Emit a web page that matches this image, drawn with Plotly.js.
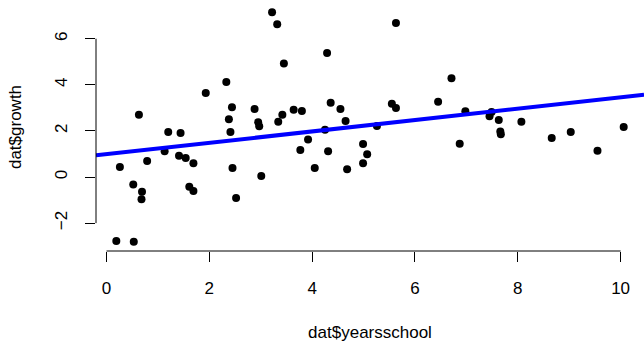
<!DOCTYPE html>
<html>
<head>
<meta charset="utf-8">
<script src="https://cdn.plot.ly/plotly-3.0.1.min.js"></script>
<style>html,body{margin:0;padding:0;background:#fff;}#chart{width:644px;height:342px;}</style>
</head>
<body>
<div id="chart"></div>
<script>
const yearsschool = [3.22,3.32,3.45,2.33,1.93,0.63,2.44,2.88,2.38,2.95,2.97,3.34,3.42,1.20,1.44,2.41,
  5.63,4.29,3.64,3.80,4.36,4.55,4.65,4.25,3.92,5.26,5.55,5.63,6.45,6.71,6.98,6.87,7.49,7.45,7.63,8.07,
  7.66,7.67,8.66,9.03,9.55,10.06,0.26,0.79,1.13,1.41,1.54,1.69,0.52,0.69,0.68,1.61,1.69,2.45,2.52,3.01,
  0.19,0.53,3.77,4.31,4.05,4.68,4.99,5.07,4.99];
const growth = [7.15,6.63,4.92,4.12,3.64,2.70,3.03,2.95,2.51,2.38,2.20,2.40,2.70,1.95,1.91,1.95,
  6.68,5.38,2.92,2.86,3.22,2.95,2.43,2.05,1.63,2.21,3.18,2.99,3.27,4.29,2.85,1.44,2.82,2.64,2.47,2.40,
  1.98,1.86,1.69,1.95,1.14,2.17,0.43,0.69,1.12,0.92,0.82,0.60,-0.33,-0.64,-0.96,-0.42,-0.61,0.39,-0.91,0.04,
  -2.78,-2.81,1.17,1.12,0.39,0.34,1.43,0.99,0.60];
const fitIntercept = 0.99;
const fitSlope = 0.247;
const xTicks = [0,2,4,6,8,10];
const yTicks = [-2,0,2,4,6];

const xRange = [-0.205, 10.455];
const yRange = [-3.21, 7.55];
const FONT = 'Liberation Sans, Arial, Helvetica, sans-serif';

const pts = {
  x: yearsschool, y: growth, type: 'scatter', mode: 'markers',
  marker: {color: '#000000', size: 8}, hoverinfo: 'skip', showlegend: false
};
const fit = {
  x: [xRange[0], xRange[1]],
  y: [fitIntercept + fitSlope*xRange[0], fitIntercept + fitSlope*xRange[1]],
  type: 'scatter', mode: 'lines', line: {color: '#0000FF', width: 4},
  hoverinfo: 'skip', showlegend: false
};

const layout = {
  width: 644, height: 342,
  margin: {l: 96, r: 0, t: 3, b: 91, pad: 0},
  paper_bgcolor: '#ffffff', plot_bgcolor: '#ffffff',
  font: {family: FONT, size: 17, color: '#000000'},
  xaxis: {
    range: xRange, showgrid: false, zeroline: false, showline: false,
    tickmode: 'array', tickvals: xTicks, ticktext: xTicks.map(String),
    ticks: 'outside', ticklen: 10, tickwidth: 1, tickcolor: '#000000',
    ticklabelstandoff: 12,
    title: {text: 'dat$yearsschool', font: {size: 17}, standoff: 29}
  },
  yaxis: {
    range: yRange, showgrid: false, zeroline: false, showline: false,
    tickmode: 'array', tickvals: yTicks, ticktext: yTicks.map(v => v < 0 ? '\u2212' + Math.abs(v) : String(v)),
    ticks: 'outside', ticklen: 10, tickwidth: 1, tickcolor: '#000000',
    tickangle: -90, ticklabelstandoff: 11,
    title: {text: 'dat$growth', font: {size: 17}, standoff: 26}
  },
  shapes: [
    {type: 'line', xref: 'x', yref: 'paper', x0: xTicks[0], x1: xTicks[xTicks.length-1], y0: 0, y1: 0,
     line: {color: '#000000', width: 1}},
    {type: 'line', xref: 'paper', yref: 'y', x0: 0, x1: 0, y0: yTicks[0], y1: yTicks[yTicks.length-1],
     line: {color: '#000000', width: 1}}
  ]
};

Plotly.newPlot('chart', [pts, fit], layout, {displayModeBar: false, staticPlot: true});
</script>
</body>
</html>
